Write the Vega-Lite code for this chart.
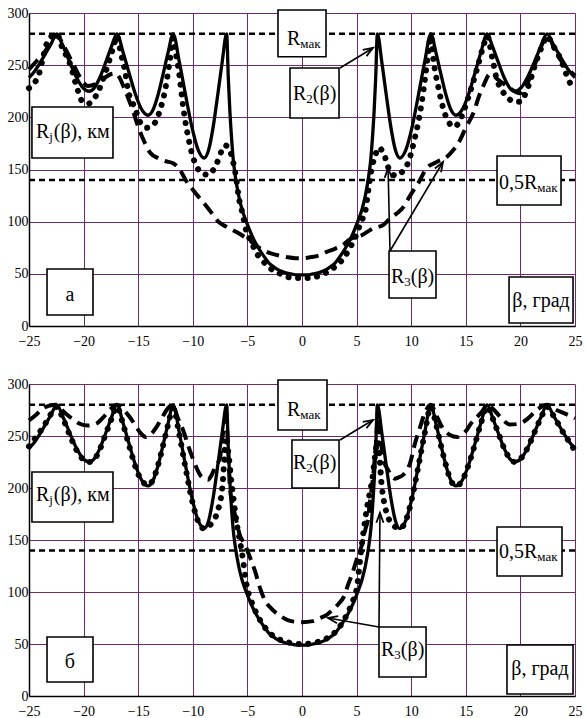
{
"$schema":"https://vega.github.io/schema/vega-lite/v6.json",
"padding":{"left":7,"top":6,"right":5,"bottom":5},
"spacing":58,
"bounds":"flush",
"datasets":{
"refs":[{"x":-25,"x2":25,"y":280},{"x":-25,"x2":25,"y":140}],
"solid":[{"x":-25,"y":238},{"x":-24.5,"y":244},{"x":-24,"y":252},{"x":-23.5,"y":261},{"x":-23,"y":270},{"x":-22.45,"y":280},{"x":-21.86,"y":267.5},{"x":-21.27,"y":252.9},{"x":-20.68,"y":238.9},{"x":-20.09,"y":228.7},{"x":-19.5,"y":225},{"x":-18.99,"y":228.7},{"x":-18.48,"y":238.9},{"x":-17.97,"y":252.9},{"x":-17.46,"y":267.5},{"x":-16.95,"y":280},{"x":-16.38,"y":262.2},{"x":-15.81,"y":241.5},{"x":-15.24,"y":221.7},{"x":-14.67,"y":207.3},{"x":-14.1,"y":202},{"x":-13.64,"y":207.3},{"x":-13.18,"y":221.7},{"x":-12.72,"y":241.5},{"x":-12.26,"y":262.2},{"x":-11.8,"y":280},{"x":-11.23,"y":252.9},{"x":-10.66,"y":221.3},{"x":-10.09,"y":191.1},{"x":-9.52,"y":169.1},{"x":-8.95,"y":161},{"x":-8.54,"y":169.1},{"x":-8.13,"y":191.1},{"x":-7.72,"y":221.3},{"x":-7.31,"y":252.9},{"x":-6.9,"y":280},{"x":-6.75,"y":238},{"x":-6.6,"y":205},{"x":-6.45,"y":180},{"x":-6.3,"y":160},{"x":-6.1,"y":143},{"x":-5.8,"y":125},{"x":-5.5,"y":112},{"x":-5.1,"y":100},{"x":-4.6,"y":87},{"x":-4,"y":75},{"x":-3.5,"y":67},{"x":-3,"y":60},{"x":-2.5,"y":56},{"x":-2,"y":53},{"x":-1.5,"y":51},{"x":-1,"y":50},{"x":-0.5,"y":49},{"x":0,"y":49},{"x":0.5,"y":49},{"x":1,"y":50},{"x":1.5,"y":51},{"x":2,"y":53},{"x":2.5,"y":56},{"x":3,"y":60},{"x":3.5,"y":67},{"x":4,"y":75},{"x":4.6,"y":87},{"x":5.1,"y":100},{"x":5.5,"y":112},{"x":5.8,"y":125},{"x":6.1,"y":143},{"x":6.3,"y":160},{"x":6.45,"y":180},{"x":6.6,"y":205},{"x":6.75,"y":238},{"x":6.9,"y":280},{"x":7.31,"y":252.9},{"x":7.72,"y":221.3},{"x":8.13,"y":191.1},{"x":8.54,"y":169.1},{"x":8.95,"y":161},{"x":9.52,"y":169.1},{"x":10.09,"y":191.1},{"x":10.66,"y":221.3},{"x":11.23,"y":252.9},{"x":11.8,"y":280},{"x":12.26,"y":262.2},{"x":12.72,"y":241.5},{"x":13.18,"y":221.7},{"x":13.64,"y":207.3},{"x":14.1,"y":202},{"x":14.67,"y":207.3},{"x":15.24,"y":221.7},{"x":15.81,"y":241.5},{"x":16.38,"y":262.2},{"x":16.95,"y":280},{"x":17.46,"y":267.5},{"x":17.97,"y":252.9},{"x":18.48,"y":238.9},{"x":18.99,"y":228.7},{"x":19.5,"y":225},{"x":20.09,"y":228.7},{"x":20.68,"y":238.9},{"x":21.27,"y":252.9},{"x":21.86,"y":267.5},{"x":22.45,"y":280},{"x":23,"y":270},{"x":23.5,"y":261},{"x":24,"y":252},{"x":24.5,"y":244},{"x":25,"y":238}],
"dotA":[{"x":-25,"y":228},{"x":-24.6,"y":232},{"x":-24.1,"y":241},{"x":-23.7,"y":258},{"x":-23.4,"y":270},{"x":-22.9,"y":278},{"x":-22.45,"y":280},{"x":-22,"y":268},{"x":-21.2,"y":250},{"x":-20.6,"y":228},{"x":-20.1,"y":215},{"x":-19.6,"y":213},{"x":-19.1,"y":217},{"x":-18.65,"y":225},{"x":-18.1,"y":240},{"x":-17.6,"y":256},{"x":-17.2,"y":270},{"x":-16.95,"y":278},{"x":-16.6,"y":262},{"x":-16.2,"y":244},{"x":-15.9,"y":225},{"x":-15.3,"y":209},{"x":-14.8,"y":195},{"x":-14.2,"y":190},{"x":-13.6,"y":193},{"x":-13,"y":207},{"x":-12.5,"y":228},{"x":-12.1,"y":255},{"x":-11.8,"y":276},{"x":-11.5,"y":258},{"x":-11.2,"y":238},{"x":-11,"y":220},{"x":-10.7,"y":197},{"x":-10.4,"y":180},{"x":-10.1,"y":166},{"x":-9.65,"y":153},{"x":-9.1,"y":146},{"x":-8.6,"y":145},{"x":-8.1,"y":150},{"x":-7.8,"y":156},{"x":-7.35,"y":168},{"x":-7,"y":173},{"x":-6.6,"y":168},{"x":-6.3,"y":157},{"x":-6,"y":140},{"x":-5.8,"y":124},{"x":-5.5,"y":110},{"x":-5.07,"y":90},{"x":-4.6,"y":80},{"x":-4.3,"y":72},{"x":-3.8,"y":65},{"x":-3.2,"y":58},{"x":-2.6,"y":53},{"x":-2.2,"y":51},{"x":-1.5,"y":48},{"x":-0.95,"y":46},{"x":0,"y":46},{"x":0.9,"y":46},{"x":1.5,"y":48},{"x":2.2,"y":51},{"x":2.8,"y":55},{"x":3.3,"y":59},{"x":4,"y":68},{"x":4.5,"y":77},{"x":5,"y":88},{"x":5.4,"y":100},{"x":5.8,"y":110},{"x":6.07,"y":130},{"x":6.4,"y":152},{"x":6.7,"y":163},{"x":7,"y":171},{"x":7.45,"y":166},{"x":8.06,"y":148},{"x":8.6,"y":144},{"x":9.2,"y":148},{"x":9.7,"y":156},{"x":10.35,"y":181},{"x":10.7,"y":198},{"x":10.96,"y":214},{"x":11.3,"y":240},{"x":11.6,"y":265},{"x":11.8,"y":278},{"x":12,"y":258},{"x":12.5,"y":228},{"x":13.1,"y":203},{"x":13.6,"y":193},{"x":14,"y":191},{"x":14.4,"y":196},{"x":14.77,"y":205},{"x":15.5,"y":228},{"x":16.1,"y":249},{"x":16.6,"y":268},{"x":16.97,"y":278},{"x":17.4,"y":258},{"x":17.8,"y":238},{"x":18.3,"y":226},{"x":18.75,"y":220},{"x":19.4,"y":215},{"x":19.96,"y":215},{"x":20.7,"y":229},{"x":21.4,"y":252},{"x":22.1,"y":271},{"x":22.45,"y":278},{"x":22.9,"y":270},{"x":23.4,"y":262},{"x":23.9,"y":250},{"x":24.4,"y":236},{"x":25,"y":226}],
"dashA":[{"x":-25,"y":246},{"x":-24.3,"y":254},{"x":-23.6,"y":262},{"x":-23,"y":272},{"x":-22.45,"y":279},{"x":-21.8,"y":268},{"x":-21,"y":252},{"x":-20.3,"y":238},{"x":-19.6,"y":230},{"x":-18.9,"y":232},{"x":-18.2,"y":237},{"x":-17.6,"y":241},{"x":-17.1,"y":242},{"x":-16.7,"y":238},{"x":-16.4,"y":231},{"x":-15.9,"y":218},{"x":-15.5,"y":207},{"x":-15.1,"y":194},{"x":-14.5,"y":178},{"x":-13.9,"y":166},{"x":-13.2,"y":161},{"x":-12.5,"y":158},{"x":-11.8,"y":156},{"x":-11.2,"y":150},{"x":-10.6,"y":139},{"x":-10.1,"y":132},{"x":-9.65,"y":126},{"x":-9,"y":118},{"x":-8.1,"y":106},{"x":-7.66,"y":100},{"x":-6.9,"y":95},{"x":-6,"y":90},{"x":-5.07,"y":84},{"x":-3.85,"y":74.5},{"x":-3,"y":70},{"x":-2.3,"y":68},{"x":-1.4,"y":66},{"x":-0.6,"y":65},{"x":0,"y":65},{"x":0.8,"y":66},{"x":1.65,"y":68},{"x":2.26,"y":71},{"x":3,"y":74},{"x":3.8,"y":78},{"x":4.24,"y":82},{"x":5.47,"y":87},{"x":6.53,"y":93.6},{"x":7.45,"y":97},{"x":8.06,"y":103},{"x":8.7,"y":108},{"x":9.28,"y":114},{"x":9.73,"y":122},{"x":10.2,"y":130},{"x":10.65,"y":137},{"x":11.4,"y":151},{"x":12.3,"y":157},{"x":13.25,"y":162},{"x":13.8,"y":168},{"x":14.3,"y":175},{"x":15,"y":190},{"x":15.8,"y":207},{"x":16.1,"y":217},{"x":16.6,"y":230},{"x":17.2,"y":241},{"x":17.6,"y":239},{"x":17.97,"y":236},{"x":18.9,"y":229},{"x":19.96,"y":223},{"x":20.6,"y":232},{"x":21.3,"y":250},{"x":21.9,"y":268},{"x":22.45,"y":279},{"x":23.3,"y":261},{"x":23.9,"y":252},{"x":24.5,"y":245},{"x":25,"y":240}],
"dotB":[{"x":-25,"y":240},{"x":-24.5,"y":247},{"x":-24,"y":254},{"x":-23.5,"y":262},{"x":-23,"y":271},{"x":-22.45,"y":278},{"x":-21.86,"y":266},{"x":-21.27,"y":251},{"x":-20.68,"y":237},{"x":-20.09,"y":228},{"x":-19.5,"y":225},{"x":-18.99,"y":228},{"x":-18.48,"y":238},{"x":-17.97,"y":252},{"x":-17.46,"y":266},{"x":-16.95,"y":278},{"x":-16.38,"y":261},{"x":-15.81,"y":240},{"x":-15.24,"y":220},{"x":-14.67,"y":207},{"x":-14.1,"y":203},{"x":-13.64,"y":208},{"x":-13.18,"y":222},{"x":-12.72,"y":241},{"x":-12.26,"y":261},{"x":-11.8,"y":277},{"x":-11.23,"y":251},{"x":-10.66,"y":219},{"x":-10.09,"y":189},{"x":-9.52,"y":168},{"x":-8.95,"y":161},{"x":-8.3,"y":166},{"x":-7.75,"y":177},{"x":-7.3,"y":200},{"x":-6.95,"y":245},{"x":-6.45,"y":205},{"x":-6,"y":168},{"x":-5.5,"y":138},{"x":-5,"y":103},{"x":-4.6,"y":90},{"x":-4,"y":76},{"x":-3,"y":61},{"x":-2,"y":54},{"x":-1,"y":51},{"x":0,"y":50},{"x":1,"y":51},{"x":2,"y":54},{"x":3,"y":61},{"x":4,"y":76},{"x":4.6,"y":90},{"x":5,"y":103},{"x":5.47,"y":145},{"x":5.9,"y":178},{"x":6.4,"y":206},{"x":6.95,"y":245},{"x":7.3,"y":202},{"x":7.75,"y":176},{"x":8.3,"y":165},{"x":8.95,"y":161},{"x":9.52,"y":169},{"x":10.09,"y":191},{"x":10.66,"y":221},{"x":11.23,"y":252},{"x":11.8,"y":278},{"x":12.26,"y":262},{"x":12.72,"y":241},{"x":13.18,"y":222},{"x":13.64,"y":207},{"x":14.1,"y":202},{"x":14.67,"y":207},{"x":15.24,"y":222},{"x":15.81,"y":241},{"x":16.38,"y":262},{"x":16.95,"y":278},{"x":17.46,"y":267},{"x":17.97,"y":253},{"x":18.48,"y":239},{"x":18.99,"y":229},{"x":19.5,"y":225},{"x":20.09,"y":229},{"x":20.68,"y":239},{"x":21.27,"y":253},{"x":21.86,"y":267},{"x":22.45,"y":278},{"x":23,"y":270},{"x":23.5,"y":261},{"x":24,"y":252},{"x":24.5,"y":244},{"x":25,"y":236}],
"dashB":[{"x":-25,"y":265},{"x":-24.4,"y":270},{"x":-23.8,"y":276},{"x":-23.2,"y":279},{"x":-22.45,"y":280},{"x":-21.8,"y":273},{"x":-21.1,"y":267},{"x":-20.4,"y":262},{"x":-19.6,"y":260},{"x":-18.8,"y":262},{"x":-18.2,"y":268},{"x":-17.6,"y":275},{"x":-16.95,"y":280},{"x":-16.4,"y":276},{"x":-15.9,"y":270},{"x":-15.3,"y":261},{"x":-14.8,"y":253},{"x":-14.3,"y":249},{"x":-13.8,"y":252},{"x":-13.3,"y":259},{"x":-12.8,"y":268},{"x":-12.4,"y":275},{"x":-11.84,"y":280},{"x":-11.4,"y":268},{"x":-10.9,"y":256},{"x":-10.4,"y":240},{"x":-9.95,"y":227},{"x":-9.6,"y":218},{"x":-9.3,"y":212},{"x":-8.9,"y":209},{"x":-8.6,"y":208},{"x":-8.3,"y":212},{"x":-8,"y":219},{"x":-7.5,"y":230},{"x":-7.2,"y":255},{"x":-6.95,"y":268},{"x":-6.75,"y":235},{"x":-6.6,"y":200},{"x":-6.3,"y":182},{"x":-6,"y":168},{"x":-5.7,"y":155},{"x":-5.2,"y":145},{"x":-4.9,"y":137},{"x":-4.3,"y":120},{"x":-3.85,"y":104},{"x":-3.4,"y":92},{"x":-2.8,"y":84},{"x":-2,"y":77},{"x":-1,"y":72},{"x":0,"y":71},{"x":1,"y":72},{"x":1.65,"y":75},{"x":2.26,"y":78},{"x":2.8,"y":83},{"x":3.3,"y":88},{"x":3.9,"y":97},{"x":4.25,"y":108},{"x":4.55,"y":116},{"x":5,"y":131},{"x":5.47,"y":145},{"x":5.8,"y":160},{"x":6.07,"y":172},{"x":6.2,"y":185},{"x":6.5,"y":210},{"x":6.75,"y":240},{"x":6.95,"y":268},{"x":7.2,"y":248},{"x":7.4,"y":230},{"x":7.9,"y":217},{"x":8.5,"y":209},{"x":8.8,"y":210},{"x":9.3,"y":213},{"x":9.9,"y":224},{"x":10.35,"y":243},{"x":10.8,"y":258},{"x":11.1,"y":268},{"x":11.8,"y":280},{"x":12.3,"y":270},{"x":12.8,"y":259},{"x":13.55,"y":251},{"x":14.2,"y":249},{"x":14.7,"y":252},{"x":15.1,"y":256},{"x":15.4,"y":261},{"x":16,"y":268},{"x":16.45,"y":273},{"x":16.97,"y":280},{"x":17.5,"y":276},{"x":18.1,"y":269},{"x":19.05,"y":261},{"x":19.96,"y":262},{"x":20.7,"y":267},{"x":21.5,"y":275},{"x":22.46,"y":280},{"x":23.3,"y":275},{"x":24.2,"y":271},{"x":25,"y":267}],
"boxA":[{"x":-2.2,"x2":2.2,"y":302.9,"y2":258},{"x":-1.1,"x2":3.39,"y":247.3,"y2":199.4},{"x":-24.73,"x2":-17.31,"y":209.9,"y2":161},{"x":17.86,"x2":23.72,"y":162.9,"y2":116},{"x":7.97,"x2":12.27,"y":71.9,"y2":26.8},{"x":18.96,"x2":24.82,"y":47,"y2":2.9},{"x":-23.35,"x2":-19.14,"y":54.6,"y2":10.5}],
"boxB":[{"x":-2.2,"x2":2.29,"y":303.8,"y2":255.8},{"x":-0.92,"x2":3.39,"y":246.2,"y2":200},{"x":-24.73,"x2":-17.31,"y":215.4,"y2":167.3},{"x":17.86,"x2":23.81,"y":162.5,"y2":115.4},{"x":7.05,"x2":11.36,"y":66.3,"y2":18.3},{"x":18.77,"x2":24.82,"y":49,"y2":1.9},{"x":-23.35,"x2":-19.14,"y":56.7,"y2":13.5}],
"arrA":[{"x":3.48,"y":247.3,"x2":6.5,"y2":266.5},{"x":8.06,"y":71.9,"x2":7.88,"y2":151.4},{"x":8.06,"y":71.9,"x2":12.91,"y2":157.2}],
"arrB":[{"x":3.48,"y":246.2,"x2":6.5,"y2":265.4},{"x":7.05,"y":66.3,"x2":7.14,"y2":176},{"x":7.05,"y":66.3,"x2":2.38,"y2":75}],
"hdA":[{"x":6.5,"y":266.5,"h":1},{"x":7.88,"y":151.4,"h":2},{"x":12.91,"y":157.2,"h":3}],
"hdB":[{"x":6.5,"y":265.4,"h":1},{"x":7.14,"y":176,"h":2},{"x":2.38,"y":75,"h":3}],
"txA":[{"x":-1.37,"y":275.1,"t":"R","k":"m"},{"x":-0.16,"y":275.1,"t":"мак","k":"s"},{"x":-0.82,"y":222.4,"t":"R","k":"m"},{"x":0.39,"y":222.4,"t":"2","k":"s"},{"x":0.99,"y":222.4,"t":"(β)","k":"m"},{"x":-24.36,"y":185.5,"t":"R","k":"m"},{"x":-23.14,"y":185.5,"t":"j","k":"s"},{"x":-22.73,"y":185.5,"t":"(β), км","k":"m"},{"x":18.04,"y":136.6,"t":"0,5R","k":"m"},{"x":21.55,"y":136.6,"t":"мак","k":"s"},{"x":8.15,"y":46.5,"t":"R","k":"m"},{"x":9.37,"y":46.5,"t":"3","k":"s"},{"x":9.96,"y":46.5,"t":"(β)","k":"m"},{"x":21.89,"y":24,"t":"β, град","k":"c"},{"x":-21.25,"y":29.7,"t":"а","k":"c"}],
"txB":[{"x":-1.37,"y":275,"t":"R","k":"m"},{"x":-0.16,"y":275,"t":"мак","k":"s"},{"x":-0.82,"y":223.6,"t":"R","k":"m"},{"x":0.39,"y":223.6,"t":"2","k":"s"},{"x":0.99,"y":223.6,"t":"(β)","k":"m"},{"x":-24.36,"y":192.8,"t":"R","k":"m"},{"x":-23.14,"y":192.8,"t":"j","k":"s"},{"x":-22.73,"y":192.8,"t":"(β), км","k":"m"},{"x":18.04,"y":138,"t":"0,5R","k":"m"},{"x":21.55,"y":138,"t":"мак","k":"s"},{"x":7.23,"y":44.7,"t":"R","k":"m"},{"x":8.45,"y":44.7,"t":"3","k":"s"},{"x":9.05,"y":44.7,"t":"(β)","k":"m"},{"x":21.79,"y":25.5,"t":"β, град","k":"c"},{"x":-21.25,"y":32.7,"t":"б","k":"c"}]
},
"vconcat":[
{"width":546,"height":313,
"encoding":{"x":{"field":"x","type":"quantitative","scale":{"domain":[-25,25],"nice":false,"zero":false},"axis":{"values":[-25,-20,-15,-10,-5,0,5,10,15,20,25],"title":null}},"y":{"field":"y","type":"quantitative","scale":{"domain":[0,300],"nice":false,"zero":false},"axis":{"values":[0,50,100,150,200,250,300],"title":null}}},
"layer":[
{"data":{"name":"refs"},"mark":{"type":"rule","strokeDash":[6,4],"strokeWidth":2.5,"color":"black"},"encoding":{"x2":{"field":"x2"}}},
{"data":{"name":"solid"},"mark":{"type":"line","interpolate":"monotone","strokeWidth":3.3,"color":"black"}},
{"data":{"name":"dotA"},"mark":{"type":"line","interpolate":"monotone","strokeWidth":6,"strokeDash":[0.1,9.5],"strokeCap":"round","color":"black"}},
{"data":{"name":"dashA"},"mark":{"type":"line","interpolate":"monotone","strokeWidth":4,"strokeDash":[13,7],"color":"black"}},
{"data":{"name":"boxA"},"mark":{"type":"rect","fill":"white","stroke":"black","strokeWidth":1.6},"encoding":{"x2":{"field":"x2"},"y2":{"field":"y2"}}},
{"data":{"name":"arrA"},"mark":{"type":"rule","strokeWidth":1.6,"color":"black"},"encoding":{"x2":{"field":"x2"},"y2":{"field":"y2"}}},
{"data":{"name":"hdA"},"transform":[{"filter":"datum.h==1"}],"mark":{"type":"point","shape":"M-0.55,1.5L0,0L0.55,1.5","size":170,"angle":58.8,"filled":false,"stroke":"black","strokeWidth":1.8,"opacity":1}},
{"data":{"name":"hdA"},"transform":[{"filter":"datum.h==2"}],"mark":{"type":"point","shape":"M-0.55,1.5L0,0L0.55,1.5","size":170,"angle":-1.4,"filled":false,"stroke":"black","strokeWidth":1.8,"opacity":1}},
{"data":{"name":"hdA"},"transform":[{"filter":"datum.h==3"}],"mark":{"type":"point","shape":"M-0.55,1.5L0,0L0.55,1.5","size":170,"angle":30.8,"filled":false,"stroke":"black","strokeWidth":1.8,"opacity":1}},
{"data":{"name":"txA"},"transform":[{"filter":"datum.k=='m'"}],"mark":{"type":"text","font":"Liberation Serif","fontSize":20,"align":"left","baseline":"middle","color":"black"},"encoding":{"text":{"field":"t"}}},
{"data":{"name":"txA"},"transform":[{"filter":"datum.k=='s'"}],"mark":{"type":"text","font":"Liberation Serif","fontSize":13,"align":"left","baseline":"middle","dy":5,"color":"black"},"encoding":{"text":{"field":"t"}}},
{"data":{"name":"txA"},"transform":[{"filter":"datum.k=='c'"}],"mark":{"type":"text","font":"Liberation Serif","fontSize":20,"align":"center","baseline":"middle","color":"black"},"encoding":{"text":{"field":"t"}}}
]},
{"width":546,"height":312,
"encoding":{"x":{"field":"x","type":"quantitative","scale":{"domain":[-25,25],"nice":false,"zero":false},"axis":{"values":[-25,-20,-15,-10,-5,0,5,10,15,20,25],"title":null}},"y":{"field":"y","type":"quantitative","scale":{"domain":[0,300],"nice":false,"zero":false},"axis":{"values":[0,50,100,150,200,250,300],"title":null}}},
"layer":[
{"data":{"name":"refs"},"mark":{"type":"rule","strokeDash":[6,4],"strokeWidth":2.5,"color":"black"},"encoding":{"x2":{"field":"x2"}}},
{"data":{"name":"solid"},"mark":{"type":"line","interpolate":"monotone","strokeWidth":3.3,"color":"black"}},
{"data":{"name":"dotB"},"mark":{"type":"line","interpolate":"monotone","strokeWidth":6,"strokeDash":[0.1,9.5],"strokeCap":"round","color":"black"}},
{"data":{"name":"dashB"},"mark":{"type":"line","interpolate":"monotone","strokeWidth":4,"strokeDash":[13,7],"color":"black"}},
{"data":{"name":"boxB"},"mark":{"type":"rect","fill":"white","stroke":"black","strokeWidth":1.6},"encoding":{"x2":{"field":"x2"},"y2":{"field":"y2"}}},
{"data":{"name":"arrB"},"mark":{"type":"rule","strokeWidth":1.6,"color":"black"},"encoding":{"x2":{"field":"x2"},"y2":{"field":"y2"}}},
{"data":{"name":"hdB"},"transform":[{"filter":"datum.h==1"}],"mark":{"type":"point","shape":"M-0.55,1.5L0,0L0.55,1.5","size":170,"angle":58.8,"filled":false,"stroke":"black","strokeWidth":1.8,"opacity":1}},
{"data":{"name":"hdB"},"transform":[{"filter":"datum.h==2"}],"mark":{"type":"point","shape":"M-0.55,1.5L0,0L0.55,1.5","size":170,"angle":0.5,"filled":false,"stroke":"black","strokeWidth":1.8,"opacity":1}},
{"data":{"name":"hdB"},"transform":[{"filter":"datum.h==3"}],"mark":{"type":"point","shape":"M-0.55,1.5L0,0L0.55,1.5","size":170,"angle":-80,"filled":false,"stroke":"black","strokeWidth":1.8,"opacity":1}},
{"data":{"name":"txB"},"transform":[{"filter":"datum.k=='m'"}],"mark":{"type":"text","font":"Liberation Serif","fontSize":20,"align":"left","baseline":"middle","color":"black"},"encoding":{"text":{"field":"t"}}},
{"data":{"name":"txB"},"transform":[{"filter":"datum.k=='s'"}],"mark":{"type":"text","font":"Liberation Serif","fontSize":13,"align":"left","baseline":"middle","dy":5,"color":"black"},"encoding":{"text":{"field":"t"}}},
{"data":{"name":"txB"},"transform":[{"filter":"datum.k=='c'"}],"mark":{"type":"text","font":"Liberation Serif","fontSize":20,"align":"center","baseline":"middle","color":"black"},"encoding":{"text":{"field":"t"}}}
]}
],
"config":{"view":{"stroke":null},"axis":{"grid":true,"gridColor":"#6e2a6e","gridWidth":1,"gridOpacity":1,"domainColor":"black","domainWidth":1.5,"ticks":false,"labelFont":"Liberation Serif","labelFontSize":14,"labelColor":"black","labelFlush":false,"labelOverlap":false},"axisX":{"labelPadding":8},"axisY":{"labelPadding":1}}
}
